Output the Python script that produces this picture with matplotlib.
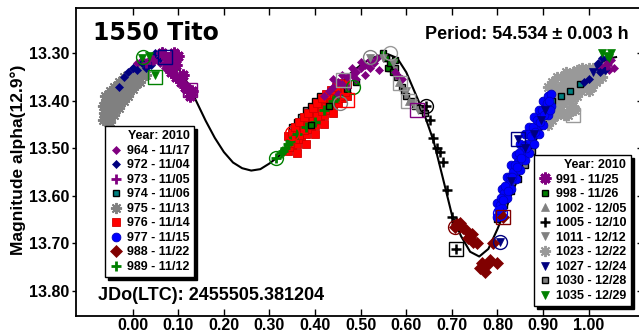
import matplotlib
matplotlib.use('Agg')
import matplotlib.pyplot as plt
from matplotlib.lines import Line2D

W, H = 639, 334
FONT = ['Liberation Sans', 'DejaVu Sans']

# ---------------- data ----------------
curve_ph = [0.00, 0.02, 0.04, 0.06, 0.08, 0.10, 0.12, 0.14, 0.16, 0.18, 0.20, 0.22, 0.24, 0.26,
            0.28, 0.30, 0.32, 0.34, 0.36, 0.38, 0.40, 0.42, 0.44, 0.46, 0.48, 0.50, 0.52, 0.54,
            0.56, 0.58, 0.60, 0.62, 0.64, 0.66, 0.68, 0.70, 0.72, 0.74, 0.76, 0.78, 0.80, 0.82,
            0.84, 0.86, 0.88, 0.90, 0.92, 0.94, 0.96, 0.98, 1.00, 1.02, 1.04, 1.06]
curve_mag = [13.345, 13.325, 13.312, 13.308, 13.315, 13.332, 13.362, 13.402, 13.442, 13.478,
             13.508, 13.530, 13.542, 13.547, 13.544, 13.532, 13.517, 13.500, 13.478, 13.455,
             13.430, 13.405, 13.380, 13.360, 13.340, 13.325, 13.312, 13.305, 13.302, 13.310,
             13.340, 13.385, 13.430, 13.485, 13.562, 13.640, 13.685, 13.718, 13.728, 13.712,
             13.670, 13.623, 13.575, 13.530, 13.490, 13.455, 13.420, 13.390, 13.370, 13.355,
             13.345, 13.325, 13.312, 13.308]

left_sessions = [964, 972, 973, 974, 975, 976, 977, 988, 989]
left_dates = ['11/17', '11/04', '11/05', '11/06', '11/13', '11/14', '11/15', '11/22', '11/12']
right_sessions = [991, 998, 1002, 1005, 1011, 1023, 1027, 1030, 1035]
right_dates = ['11/25', '11/26', '12/05', '12/10', '12/12', '12/22', '12/24', '12/28', '12/29']

ph_975 = [-0.065, -0.06, -0.06, -0.055, -0.05, -0.05, -0.045, -0.04, -0.04, -0.035, -0.03, -0.03,
          -0.025, -0.02, -0.02, -0.015, -0.01, -0.01, -0.005, 0.0, 0.0, 0.005, 0.01, 0.015, 0.02,
          0.025, 0.03,
          -0.0625, -0.0575, -0.0525, -0.0475, -0.0425, -0.0375, -0.0325, -0.0275, -0.0225,
          -0.0175, -0.0125, -0.0075, -0.0025, 0.0025, 0.0075, 0.0125, 0.0175, -0.065, -0.055]
mag_975 = [13.41, 13.39, 13.43, 13.41, 13.38, 13.445, 13.40, 13.37, 13.43, 13.39, 13.36, 13.415,
           13.38, 13.35, 13.40, 13.37, 13.345, 13.39, 13.36, 13.34, 13.375, 13.355, 13.335, 13.36,
           13.34, 13.325, 13.345,
           13.425, 13.40, 13.425, 13.39, 13.415, 13.38, 13.40, 13.37, 13.39,
           13.36, 13.38, 13.35, 13.37, 13.345, 13.365, 13.35, 13.33, 13.44, 13.445]

ph_1023 = [0.905, 0.905, 0.91, 0.91, 0.915, 0.915, 0.92, 0.92, 0.925, 0.925, 0.93, 0.93, 0.935,
           0.935, 0.94, 0.94, 0.945, 0.95, 0.95, 0.95, 0.955, 0.96, 0.96, 0.965, 0.965, 0.97,
           0.975, 0.975, 0.98, 0.985, 0.985, 0.99, 0.995, 1.0, 1.0, 1.005, 1.01, 1.015, 1.02,
           1.025, 1.03,
           0.9075, 0.9125, 0.9175, 0.9225, 0.9275, 0.9325, 0.9375, 0.9425, 0.9475, 0.9525,
           0.9575, 0.9625, 0.9675, 0.9725, 0.9775, 0.9825, 0.9875, 0.9925, 0.9975, 1.0025,
           1.0075, 1.0125, 1.0175, 1.0225, 0.96, 0.97, 0.945]
mag_1023 = [13.40, 13.43, 13.37, 13.45, 13.39, 13.42, 13.36, 13.44, 13.38, 13.41, 13.35, 13.43,
            13.37, 13.40, 13.35, 13.42, 13.38, 13.34, 13.36, 13.40, 13.43, 13.35, 13.38, 13.34,
            13.41, 13.36, 13.335, 13.39, 13.35, 13.33, 13.37, 13.345, 13.36, 13.33, 13.38, 13.345,
            13.33, 13.36, 13.34, 13.33, 13.35,
            13.415, 13.43, 13.405, 13.425, 13.395, 13.415, 13.385, 13.405, 13.365, 13.385,
            13.365, 13.395, 13.35, 13.375, 13.355, 13.38, 13.345, 13.37, 13.345, 13.36,
            13.37, 13.345, 13.33, 13.355, 13.42, 13.42, 13.43]

ph_977 = [0.800, 0.800, 0.805, 0.810, 0.810, 0.815, 0.820, 0.820, 0.825, 0.830, 0.830, 0.835,
          0.840, 0.840, 0.845, 0.850, 0.850, 0.855, 0.860, 0.860, 0.865, 0.870, 0.870, 0.875,
          0.880, 0.880, 0.885, 0.890, 0.890, 0.895, 0.900, 0.900, 0.905, 0.910, 0.910, 0.918,
          0.918,
          0.8025, 0.8075, 0.8125, 0.8175, 0.8225, 0.8275, 0.8325, 0.8375, 0.8425, 0.8475,
          0.8525, 0.8575, 0.8625, 0.8675, 0.8725, 0.8775, 0.8825, 0.8875, 0.8925, 0.8975,
          0.9025, 0.9075, 0.9125, 0.915]
mag_977 = [13.615, 13.645, 13.62, 13.585, 13.625, 13.595, 13.56, 13.605, 13.575, 13.535, 13.585,
           13.55, 13.515, 13.565, 13.53, 13.49, 13.545, 13.51, 13.47, 13.525, 13.49, 13.455,
           13.51, 13.475, 13.435, 13.49, 13.455, 13.42, 13.47, 13.435, 13.40, 13.45, 13.415,
           13.39, 13.43, 13.385, 13.41,
           13.63, 13.605, 13.61, 13.58, 13.59, 13.56, 13.56, 13.535, 13.54, 13.51,
           13.52, 13.495, 13.50, 13.47, 13.475, 13.455, 13.465, 13.44, 13.445, 13.42,
           13.43, 13.405, 13.40, 13.42]

ph_1030 = [0.35, 0.36, 0.37, 0.38, 0.39, 0.40, 0.41, 0.555, 0.565, 0.575, 0.58, 0.59, 0.595,
           0.60, 0.61, 0.62, 0.63, 0.635, 0.64, 0.80, 0.815, 0.83, 0.845, 0.86, 0.875]
mag_1030 = [13.455, 13.445, 13.435, 13.42, 13.41, 13.40, 13.39, 13.31, 13.33, 13.33, 13.35,
            13.37, 13.38, 13.39, 13.40, 13.41, 13.415, 13.42, 13.425, 13.65, 13.62, 13.59,
            13.565, 13.535, 13.505]

ph_976 = [0.34, 0.35, 0.36, 0.37, 0.38, 0.39, 0.40, 0.41, 0.42, 0.43, 0.44, 0.45, 0.46, 0.47,
          0.34, 0.35, 0.36, 0.37, 0.38, 0.39, 0.40, 0.41, 0.42, 0.43, 0.44, 0.45, 0.46, 0.47,
          0.345, 0.355, 0.365, 0.375, 0.385, 0.395, 0.405, 0.415, 0.425, 0.435, 0.445, 0.455, 0.465,
          0.355, 0.365, 0.375, 0.385, 0.395, 0.405, 0.415, 0.425, 0.435, 0.445, 0.455,
          0.36, 0.38, 0.40, 0.42, 0.44]
mag_976 = [13.475, 13.468, 13.46, 13.45, 13.44, 13.43, 13.42, 13.41, 13.40, 13.392, 13.385, 13.378,
           13.37, 13.365,
           13.505, 13.498, 13.49, 13.48, 13.47, 13.46, 13.45, 13.44, 13.43, 13.42, 13.412, 13.405,
           13.395, 13.39,
           13.488, 13.48, 13.472, 13.462, 13.452, 13.442, 13.432, 13.422, 13.413, 13.405, 13.397,
           13.39, 13.382,
           13.455, 13.445, 13.435, 13.425, 13.415, 13.405, 13.395, 13.385, 13.378, 13.37, 13.362,
           13.51, 13.49, 13.47, 13.448, 13.425]

ph_989 = [0.315, 0.325, 0.33, 0.335, 0.34, 0.345, 0.36, 0.38, 0.40, 0.42, 0.44, 0.45]
mag_989 = [13.52, 13.51, 13.505, 13.50, 13.49, 13.485, 13.47, 13.455, 13.445, 13.42, 13.40, 13.39]

ph_998 = [0.39, 0.43, 0.47, 0.49, 0.55, 0.555, 0.56, 0.565, 0.57, 0.575]
mag_998 = [13.45, 13.41, 13.375, 13.36, 13.30, 13.31, 13.33, 13.32, 13.34, 13.315]

ph_964 = [0.42, 0.43, 0.44, 0.45, 0.46, 0.47, 0.48, 0.49, 0.50, 0.51, 0.52, 0.53, 0.54, 0.45,
          0.47, 0.49, 0.51, 0.575, 0.58, 0.59, 0.44, 0.46, 0.48, 0.50, 0.52, 0.535,
          0.00, 0.01, 0.02, 0.03, 0.04, 0.05, 0.06, 0.07, 0.075,
          1.03, 1.04, 1.045, 1.05, 1.055]
mag_964 = [13.39, 13.38, 13.37, 13.36, 13.365, 13.35, 13.345, 13.34, 13.33, 13.325, 13.33, 13.32,
           13.335, 13.385, 13.37, 13.355, 13.345, 13.34, 13.345, 13.355, 13.355, 13.345, 13.33,
           13.318, 13.315, 13.31,
           13.33, 13.32, 13.315, 13.32, 13.31, 13.315, 13.32, 13.33, 13.325,
           13.33, 13.32, 13.335, 13.315, 13.33]

ph_972 = [-0.03, -0.02, -0.01, 0.0, 0.01, 0.02, 0.03, 0.04, 0.05, 0.06, 0.065,
          0.99, 1.0, 1.02, 1.025, 1.03, 1.035, 1.04]
mag_972 = [13.37, 13.35, 13.34, 13.33, 13.335, 13.32, 13.33, 13.325, 13.30, 13.31, 13.295,
           13.36, 13.355, 13.32, 13.34, 13.31, 13.335, 13.31]

ph_973 = [0.03, 0.045, 1.04]
mag_973 = [13.32, 13.315, 13.325]

ph_991 = [0.065, 0.075, 0.08, 0.085, 0.09, 0.095, 0.095, 0.10, 0.105, 0.11, 0.115, 0.12, 0.125, 0.13]
mag_991 = [13.30, 13.32, 13.31, 13.34, 13.30, 13.325, 13.35, 13.305, 13.36, 13.345, 13.37, 13.375,
           13.39, 13.38]

ph_1035 = [0.02, 0.035, 0.05, 1.03, 1.04, 1.045, 1.05]
mag_1035 = [13.31, 13.305, 13.345, 13.30, 13.305, 13.31, 13.30]

ph_1011 = [0.52, 0.55, 0.57, 0.60, 0.615, 0.625]
mag_1011 = [13.31, 13.31, 13.32, 13.38, 13.405, 13.42]
ph_1002 = [0.585, 0.605]
mag_1002 = [13.36, 13.40]

ph_1005 = [0.643, 0.652, 0.658, 0.667, 0.674, 0.680, 0.689, 0.700, 0.710, 0.71]
mag_1005 = [13.41, 13.44, 13.478, 13.50, 13.507, 13.528, 13.588, 13.644, 13.655, 13.712]

ph_988 = [0.707, 0.712, 0.718, 0.725, 0.732, 0.735, 0.74, 0.745, 0.747, 0.754, 0.762, 0.765,
          0.772, 0.778, 0.784, 0.79, 0.80, 0.811]
mag_988 = [13.665, 13.66, 13.657, 13.668, 13.672, 13.69, 13.686, 13.68, 13.697, 13.70, 13.752,
           13.742, 13.76, 13.745, 13.735, 13.70, 13.742, 13.644]

ph_1027 = [0.806, 0.83, 0.845, 0.86, 0.88, 0.895, 0.905, 1.01, 1.02]
mag_1027 = [13.697, 13.57, 13.48, 13.50, 13.47, 13.44, 13.42, 13.34, 13.33]

ph_974 = [0.84, 0.87, 0.89, 0.91, 0.92, 0.94, 0.96, 0.98]
mag_974 = [13.555, 13.50, 13.45, 13.41, 13.40, 13.39, 13.38, 13.365]

# highlighted (large open) points, by session
ring_sess = [1035, 989, 976, 1030, 998, 1011, 1023, 1005, 988, 977, 1027]
ring_ph = [0.023, 0.315, 0.35, 0.455, 0.483, 0.52, 0.564, 0.643, 0.707, 0.806, 0.806]
ring_mag = [13.308, 13.52, 13.468, 13.405, 13.37, 13.308, 13.30, 13.41, 13.665, 13.636, 13.697]
box_sess = [1035, 972, 991, 1023, 976, 1023, 1023, 964, 1005, 988, 1027, 1023]
box_ph = [0.049, 0.07, 0.126, 0.461, 0.47, 0.587, 0.604, 0.623, 0.71, 0.811, 0.845, 0.965]
box_mag = [13.35, 13.308, 13.377, 13.356, 13.398, 13.363, 13.40, 13.42, 13.712, 13.644, 13.48, 13.43]

# ---------------- styles ----------------
color = {964: '#800080', 972: '#000080', 973: '#800080', 974: '#008080', 975: '#808080',
         976: '#FF0000', 977: '#0000FF', 988: '#800000', 989: '#008000', 991: '#800080',
         998: '#008000', 1002: '#808080', 1005: '#000000', 1011: '#808080', 1023: '#999999',
         1027: '#000080', 1030: '#808080', 1035: '#008000'}
star = (8, 2, 0)
style = {
    964: dict(marker='D', mfc=color[964], mec=color[964], ms=4.5, mew=0.5),
    972: dict(marker='D', mfc=color[972], mec=color[972], ms=4.2, mew=0.5),
    973: dict(marker='+', mec=color[973], ms=7, mew=2),
    974: dict(marker='s', mfc=color[974], mec='black', ms=5, mew=1),
    975: dict(marker=star, mec=color[975], ms=8, mew=1.4),
    976: dict(marker='s', mfc=color[976], mec='#D00000', ms=6, mew=0.6),
    977: dict(marker='o', mfc=color[977], mec='#0000C0', ms=6.3, mew=0.6),
    988: dict(marker='D', mfc=color[988], mec=color[988], ms=6, mew=0.5),
    989: dict(marker='+', mec=color[989], ms=7, mew=2),
    991: dict(marker=star, mec=color[991], ms=8.5, mew=2),
    998: dict(marker='s', mfc=color[998], mec='black', ms=5, mew=1),
    1002: dict(marker='^', mfc=color[1002], mec=color[1002], ms=5.5, mew=0.5),
    1005: dict(marker='+', mec=color[1005], ms=7, mew=1.8),
    1011: dict(marker='v', mfc=color[1011], mec=color[1011], ms=5.5, mew=0.5),
    1023: dict(marker=star, mec=color[1023], ms=8, mew=1.4),
    1027: dict(marker='v', mfc=color[1027], mec=color[1027], ms=5.5, mew=0.5),
    1030: dict(marker='s', mfc=color[1030], mec='black', ms=5, mew=1),
    1035: dict(marker='v', mfc=color[1035], mec=color[1035], ms=5.5, mew=0.5),
}

series = [(975, ph_975, mag_975), (1023, ph_1023, mag_1023), (974, ph_974, mag_974),
          (1030, ph_1030, mag_1030), (977, ph_977, mag_977), (1027, ph_1027, mag_1027),
          (976, ph_976, mag_976), (989, ph_989, mag_989), (998, ph_998, mag_998),
          (964, ph_964, mag_964), (972, ph_972, mag_972), (973, ph_973, mag_973),
          (991, ph_991, mag_991), (1035, ph_1035, mag_1035), (1011, ph_1011, mag_1011),
          (1002, ph_1002, mag_1002), (1005, ph_1005, mag_1005), (988, ph_988, mag_988)]

# ---------------- figure ----------------
fig = plt.figure(figsize=(W / 100, H / 100), dpi=100)
ax = fig.add_axes([76 / W, 1 - 316 / H, 566 / W, 308 / H])
ax.set_xlim(-0.1243, 1.1169)
ax.set_ylim(13.8533, 13.2046)

ax.plot(curve_ph, curve_mag, color='black', lw=1.5, zorder=2)

for s, p, m in series:
    ax.plot(p, m, linestyle='none', zorder=3, **style[s])

for s, p, m in zip(ring_sess, ring_ph, ring_mag):
    ax.plot([p], [m], linestyle='none', marker='o', ms=10, mfc='none', mec=color[s], mew=1.0, zorder=4)
for s, p, m in zip(box_sess, box_ph, box_mag):
    ax.plot([p], [m], linestyle='none', marker='s', ms=10, mfc='none', mec=color[s], mew=1.0, zorder=4)

# axes styling
for sp in ax.spines.values():
    sp.set_linewidth(1.3)
ax.set_xticks([0.0, 0.1, 0.2, 0.3, 0.4, 0.5, 0.6, 0.7, 0.8, 0.9, 1.0])
ax.set_yticks([13.30, 13.40, 13.50, 13.60, 13.70, 13.80])
ax.xaxis.set_major_formatter(matplotlib.ticker.FormatStrFormatter('%.2f'))
ax.yaxis.set_major_formatter(matplotlib.ticker.FormatStrFormatter('%.2f'))
ax.tick_params(axis='x', which='both', direction='in', length=5, width=1.0, top=True,
               bottom=True, pad=1.2)
ax.tick_params(axis='y', which='both', direction='out', length=3.2, width=1.0, left=True,
               right=False, pad=1.5)
for lab in ax.get_xticklabels() + ax.get_yticklabels():
    lab.set_fontfamily(FONT)
    lab.set_fontweight('bold')
    lab.set_fontsize(11.5)
sec = ax.secondary_yaxis('right')
sec.set_yticks([13.30, 13.40, 13.50, 13.60, 13.70, 13.80])
sec.tick_params(direction='in', length=3.5, width=1.0, labelright=False)
sec.spines['right'].set_linewidth(1.3)

# texts
fig.text(93 / W, 1 - 40 / H, '1550 Tito', fontsize=17, fontweight='bold',
         family=['DejaVu Sans'], ha='left', va='baseline')
fig.text(629 / W, 1 - 39 / H, 'Period: 54.534 \u00b1 0.003 h', fontsize=13, fontweight='bold',
         family=FONT, ha='right', va='baseline')
fig.text(98 / W, 1 - 300 / H, 'JDo(LTC): 2455505.381204', fontsize=13, fontweight='bold',
         family=FONT, ha='left', va='baseline')
fig.text(18 / W, 1 - 160 / H, 'Magnitude alpha(12.9\u00b0)', fontsize=12.5, fontweight='bold',
         family=FONT, rotation=90, ha='center', va='center')

# legends
def make_legend(sessions, dates, anchor):
    handles = [Line2D([], [], linestyle='none', **style[s]) for s in sessions]
    labels = ['%d - %s' % (s, d) for s, d in zip(sessions, dates)]
    leg = ax.legend(handles, labels, loc='upper left', bbox_to_anchor=anchor,
                    bbox_transform=fig.transFigure, title='Year: 2010', alignment='right',
                    prop=dict(family=FONT, weight='bold', size=9),
                    title_fontproperties=dict(family=FONT, weight='bold', size=9),
                    frameon=True, fancybox=False, framealpha=1,
                    shadow={'color': 'black', 'alpha': 1},
                    handlelength=1.0, handletextpad=0.4, borderpad=0.35, labelspacing=0.2,
                    borderaxespad=0, edgecolor='black')
    leg.get_frame().set_linewidth(1.0)
    leg.set_zorder(10)
    return leg

leg1 = make_legend(left_sessions, left_dates, (105 / W, 1 - 126 / H))
ax.add_artist(leg1)
leg2 = make_legend(right_sessions, right_dates, (534 / W, 1 - 155 / H))

fig.savefig('out.png', dpi=100)
